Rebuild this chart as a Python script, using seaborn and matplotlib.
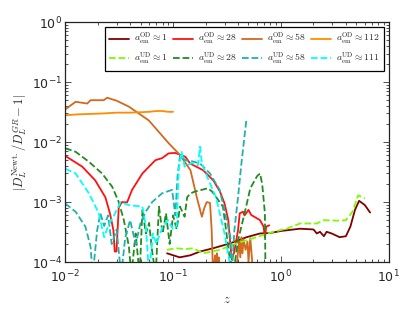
import numpy as np
import pandas as pd
import matplotlib
matplotlib.use("Agg")
import matplotlib.pyplot as plt
import seaborn as sns

# a_em^OD ~ 1
z_od1 = [0.088, 0.1, 0.115, 0.13, 0.145, 0.178, 0.235, 0.337, 0.48, 0.64, 0.79, 1.0,
         1.5, 2.0, 2.15, 2.3, 2.5, 2.65, 2.95, 3.5, 4.0, 4.4, 4.85, 5.3, 6.0, 6.7]
v_od1 = [1.4e-4, 1.3e-4, 1.2e-4, 1.25e-4, 1.3e-4, 1.5e-4, 1.7e-4, 2.05e-4, 2.6e-4, 3.0e-4,
         3.05e-4, 3.3e-4, 3.6e-4, 3.5e-4, 3.0e-4, 3.2e-4, 2.7e-4, 3.2e-4, 3.0e-4, 2.6e-4,
         2.7e-4, 3.9e-4, 7.4e-4, 1.05e-3, 8.9e-4, 6.7e-4]

# a_em^OD ~ 28
z_od28 = [0.01, 0.0144, 0.019, 0.0236, 0.026, 0.028, 0.0288, 0.0299, 0.0314, 0.0337, 0.0375,
          0.0417, 0.052, 0.064, 0.0686, 0.079, 0.091, 0.105, 0.13, 0.144, 0.19, 0.236, 0.272,
          0.30, 0.325, 0.337, 0.35, 0.37, 0.40, 0.415, 0.445, 0.46, 0.50, 0.53, 0.64, 0.69,
          0.71, 0.73, 0.78]
v_od28 = [5.9e-3, 3.9e-3, 2.3e-3, 1.2e-3, 6.5e-4, 3.4e-4, 1.5e-4, 1.5e-4, 8.3e-4, 1.0e-3,
          9.9e-4, 1.6e-3, 3.0e-3, 4.4e-3, 5.0e-3, 5.4e-3, 6.5e-3, 6.6e-3, 5.7e-3, 4.4e-3,
          3.4e-3, 2.3e-3, 1.5e-3, 9.5e-4, 5.0e-4, 2.3e-4, 1.1e-4, 1.5e-4, 3.4e-4, 6.5e-4,
          6.9e-4, 6.0e-4, 7.4e-4, 6.1e-4, 5.0e-4, 3.9e-4, 2.6e-4, 3.9e-4, 4.1e-4]

# a_em^OD ~ 58
z_od58 = [0.01, 0.0125, 0.016, 0.0172, 0.0228, 0.0245, 0.03, 0.039, 0.0596, 0.091, 0.116,
          0.145, 0.166, 0.185, 0.195, 0.205, 0.22, 0.228, 0.235, 0.245, 0.25, 0.255, 0.26,
          0.265, 0.27, 0.3, 0.38, 0.40, 0.41, 0.42, 0.43, 0.44, 0.45, 0.47, 0.49, 0.5, 0.52,
          0.54, 0.55]
v_od58 = [0.035, 0.047, 0.044, 0.05, 0.05, 0.055, 0.049, 0.039, 0.023, 0.0096, 0.0061,
          0.0034, 0.0012, 0.00057, 0.0008, 0.001, 0.00097, 0.00034, 6e-5, 1.3e-4, 5e-5,
          1.4e-4, 6e-5, 1.2e-4, 5e-5, 5e-5, 5e-5, 1.5e-4, 2.2e-4, 1.2e-4, 2.6e-4, 1.4e-4,
          2.4e-4, 1.6e-4, 2.2e-4, 1e-4, 2.5e-4, 1.1e-4, 6e-5]

# a_em^OD ~ 112
z_od112 = [0.01, 0.013, 0.017, 0.022, 0.03, 0.04, 0.05, 0.06, 0.07, 0.08, 0.09, 0.1]
v_od112 = [0.028, 0.029, 0.0295, 0.030, 0.031, 0.031, 0.0315, 0.032, 0.033, 0.033, 0.032, 0.032]

# a_em^UD ~ 1
z_ud1 = [0.088, 0.105, 0.13, 0.154, 0.19, 0.27, 0.39, 0.59, 0.85, 1.13, 1.5, 2.15, 2.5, 3.3,
         4.0, 4.6, 5.2, 6.0]
v_ud1 = [1.6e-4, 1.7e-4, 1.65e-4, 1.7e-4, 1.4e-4, 1.6e-4, 2.05e-4, 2.6e-4, 3.2e-4, 3.6e-4,
         4.4e-4, 4.4e-4, 5.0e-4, 4.9e-4, 5.0e-4, 6.9e-4, 1.3e-3, 1.15e-3]

# a_em^UD ~ 28
z_ud28 = [0.01, 0.0125, 0.0166, 0.022, 0.0273, 0.0314, 0.035, 0.039, 0.041, 0.045, 0.049,
          0.052, 0.056, 0.06, 0.064, 0.069, 0.074, 0.08, 0.086, 0.093, 0.1, 0.108, 0.116,
          0.128, 0.135, 0.145, 0.16, 0.21, 0.23, 0.29, 0.31, 0.33, 0.36, 0.40, 0.46, 0.52,
          0.60, 0.64, 0.67, 0.71, 0.72]
v_ud28 = [7.9e-3, 6.9e-3, 4.7e-3, 3.0e-3, 1.8e-3, 1.0e-3, 5e-4, 1.8e-4, 6e-5, 3e-4, 6e-5,
          7.4e-4, 3e-4, 4.5e-4, 1.5e-4, 6e-5, 8.4e-4, 3e-4, 6.5e-4, 2e-4, 6e-4, 3.5e-4,
          8.4e-4, 5.7e-4, 1.2e-3, 1.4e-3, 1.5e-3, 1.7e-3, 1.5e-3, 8.4e-4, 3.4e-4, 1.4e-4,
          6e-5, 2.3e-4, 6.5e-4, 1.7e-3, 2.7e-3, 3.0e-3, 2.0e-3, 6.5e-4, 5e-5]

# a_em^UD ~ 58
z_ud58 = [0.01, 0.0125, 0.0154, 0.0172, 0.018, 0.0198, 0.0212, 0.023, 0.025, 0.027, 0.03,
          0.033, 0.036, 0.04, 0.045, 0.05, 0.056, 0.064, 0.079, 0.098, 0.105, 0.11, 0.116,
          0.13, 0.15, 0.178, 0.22, 0.27, 0.30, 0.34, 0.35, 0.37, 0.40, 0.43, 0.48]
v_ud58 = [9.5e-4, 6.9e-4, 3.9e-4, 1.8e-4, 6e-5, 3.4e-4, 6.5e-4, 4e-4, 6e-4, 2e-4, 3.5e-4,
          6e-5, 2.5e-4, 5e-4, 2e-4, 4.5e-4, 7e-4, 1.0e-3, 1.4e-3, 1.6e-3, 6e-4, 2.7e-3,
          6e-3, 5e-3, 4.8e-3, 4.4e-3, 3.0e-3, 1.6e-3, 7.4e-4, 2.6e-4, 6e-5, 3.4e-4, 1.2e-3,
          4.4e-3, 0.025]

# a_em^UD ~ 111
z_ud111 = [0.01, 0.0125, 0.0166, 0.0205, 0.023, 0.025, 0.028, 0.0326, 0.039, 0.052, 0.056,
           0.06, 0.065, 0.07, 0.08, 0.09, 0.1, 0.108, 0.113, 0.12, 0.128, 0.15, 0.17, 0.178,
           0.185, 0.21, 0.25, 0.3, 0.35]
v_ud111 = [3.6e-3, 3.0e-3, 1.4e-3, 6.5e-4, 2.6e-4, 4e-4, 5.7e-4, 1.0e-3, 8.9e-4, 8.4e-4,
           4e-4, 6e-5, 3e-4, 2e-4, 3.9e-4, 5e-4, 3.5e-4, 4e-4, 3.6e-3, 6.9e-3, 3.9e-3,
           4.5e-3, 4.1e-3, 8.4e-3, 4.4e-3, 2.5e-3, 1.2e-3, 3e-4, 6e-5]

series = [
    (z_od1, v_od1, r'$a_{\rm em}^{\rm OD}\approx 1$', '#800000', '-'),
    (z_ud1, v_ud1, r'$a_{\rm em}^{\rm UD}\approx 1$', '#7CFC00', '--'),
    (z_od28, v_od28, r'$a_{\rm em}^{\rm OD}\approx 28$', '#FF1010', '-'),
    (z_ud28, v_ud28, r'$a_{\rm em}^{\rm UD}\approx 28$', '#228B22', '--'),
    (z_od58, v_od58, r'$a_{\rm em}^{\rm OD}\approx 58$', '#D2691E', '-'),
    (z_ud58, v_ud58, r'$a_{\rm em}^{\rm UD}\approx 58$', '#20B2AA', '--'),
    (z_od112, v_od112, r'$a_{\rm em}^{\rm OD}\approx 112$', '#FF8C00', '-'),
    (z_ud111, v_ud111, r'$a_{\rm em}^{\rm UD}\approx 111$', '#00FFFF', '--'),
]

sns.set_style('white')
plt.rcParams['font.family'] = ['DejaVu Sans']
plt.rcParams['mathtext.fontset'] = 'cm'
plt.rcParams['xtick.direction'] = 'in'
plt.rcParams['ytick.direction'] = 'in'

fig = plt.figure(figsize=(4.15, 3.12), dpi=100)
ax = fig.add_axes([0.157, 0.160, 0.780, 0.769])

# solid curves first, dashed ones on top
order = [0, 2, 4, 6, 1, 3, 5, 7]
for i in order:
    z, v, lab, col, ls = series[i]
    df = pd.DataFrame({'z': z, 'v': v})
    sns.lineplot(data=df, x='z', y='v', ax=ax, color=col, linestyle=ls, lw=1.3,
                 label=lab, estimator=None, sort=False)

ax.set_xscale('log')
ax.set_yscale('log')
ax.set_xlim(1e-2, 1e1)
ax.set_ylim(1e-4, 1e0)
ax.set_xlabel(r'$z$', fontsize=9, labelpad=5)
ax.set_ylabel(r'$|D_L^{\rm Newt.}/D_L^{GR}-1|$', fontsize=9, labelpad=2)

ax.tick_params(which='both', bottom=True, left=True, top=True, right=True,
               labelsize=9, width=0.6, color='#333333')
ax.tick_params(axis='x', pad=5)
ax.tick_params(axis='y', pad=2)
ax.tick_params(which='major', length=4)
ax.tick_params(which='minor', length=2)
for sp in ax.spines.values():
    sp.set_color('#222222')
    sp.set_linewidth(0.9)

handles, labels = ax.get_legend_handles_labels()
lab_to_h = dict(zip(labels, handles))
hs = [lab_to_h[s[2]] for s in series]
ls_ = [s[2] for s in series]
leg = ax.legend(hs, ls_, loc='upper right', ncol=4, fontsize=7, frameon=True,
                fancybox=False, edgecolor='black', framealpha=1,
                handlelength=2.0, columnspacing=0.6, handletextpad=0.5,
                borderpad=0.45, labelspacing=0.35, borderaxespad=0.5)
leg.get_frame().set_linewidth(0.9)

fig.savefig('out.png', dpi=100)
